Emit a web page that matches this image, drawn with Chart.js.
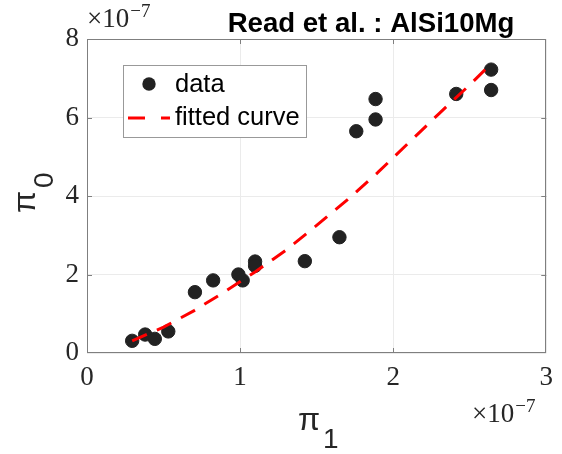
<!DOCTYPE html>
<html>
<head>
<meta charset="utf-8">
<script src="https://cdn.jsdelivr.net/npm/chart.js@4.4.0/dist/chart.umd.min.js"></script>
<style>
  html, body { margin: 0; padding: 0; background: #fff; }
</style>
</head>
<body>
<canvas id="fitChart" width="562" height="454"></canvas>
<script>
// measured points (units of 1e-7)
const dataX = [0.295, 0.38, 0.443, 0.531, 0.705, 0.824, 0.989, 1.017, 1.098, 1.098, 1.423, 1.649, 1.759, 1.885, 1.885, 2.412, 2.64, 2.64]
const dataY = [0.31, 0.47, 0.36, 0.55, 1.55, 1.85, 2.0, 1.85, 2.33, 2.22, 2.34, 2.95, 5.65, 5.95, 6.47, 6.60, 7.22, 6.70]

// fitted curve samples (units of 1e-7)
const fitX = [0.295, 0.5, 0.7, 0.9, 1.1, 1.3, 1.5, 1.7, 1.9, 2.1, 2.3, 2.5, 2.64]
const fitY = [0.31, 0.66, 1.08, 1.56, 2.07, 2.62, 3.25, 3.90, 4.60, 5.35, 6.10, 6.83, 7.37]

const xTicks = [0, 1, 2, 3]
const yTicks = [0, 2, 4, 6, 8]

const titleText = "Read et al. : AlSi10Mg"
const legendLabels = ["data", "fitted curve"]

const FRAME = "#7f7f7f"
const TEXT = "#262626"
const SERIF = "'Liberation Serif', serif"
const SANS = "'Liberation Sans', Arial, sans-serif"

// "×10^-7" multiplier label
function drawExponent(ctx, x, baseline) {
  ctx.save()
  ctx.fillStyle = TEXT
  ctx.textAlign = "left"
  ctx.textBaseline = "alphabetic"
  ctx.font = "27px " + SERIF
  const base = "\u00d710"
  ctx.fillText(base, x, baseline)
  const w = ctx.measureText(base).width
  ctx.font = "19px " + SERIF
  ctx.fillText("\u22127", x + w + 1, baseline - 10)
  ctx.restore()
}

// π with a subscript
function drawPiLabel(ctx, sub) {
  ctx.fillStyle = TEXT
  ctx.textAlign = "left"
  ctx.textBaseline = "alphabetic"
  ctx.font = "32px " + SANS
  ctx.fillText("\u03c0", 0, 0)
  const w = ctx.measureText("\u03c0").width
  ctx.font = "28px " + SANS
  ctx.fillText(sub, w + 3, 18)
}

const decorations = {
  id: "decorations",
  afterDraw(chart) {
    const ctx = chart.ctx
    const a = chart.chartArea
    const xs = chart.scales.x
    const ys = chart.scales.y

    // axes box with inward ticks
    ctx.save()
    ctx.strokeStyle = FRAME
    ctx.lineWidth = 1
    ctx.strokeRect(Math.round(a.left) + 0.5, Math.round(a.top) + 0.5,
      Math.round(a.right - a.left) - 1, Math.round(a.bottom - a.top) - 1)
    ctx.beginPath()
    xTicks.slice(1, -1).forEach(v => {
      const px = Math.round(xs.getPixelForValue(v)) + 0.5
      ctx.moveTo(px, a.bottom); ctx.lineTo(px, a.bottom - 5)
      ctx.moveTo(px, a.top); ctx.lineTo(px, a.top + 5)
    })
    yTicks.slice(1, -1).forEach(v => {
      const py = Math.round(ys.getPixelForValue(v)) + 0.5
      ctx.moveTo(a.left, py); ctx.lineTo(a.left + 5, py)
      ctx.moveTo(a.right, py); ctx.lineTo(a.right - 5, py)
    })
    ctx.stroke()
    ctx.restore()

    // legend
    ctx.save()
    ctx.fillStyle = "#fff"
    ctx.fillRect(123, 65, 183, 72)
    ctx.strokeStyle = "#999"
    ctx.lineWidth = 1
    ctx.strokeRect(123.5, 65.5, 183, 72)
    ctx.fillStyle = "#222"
    ctx.beginPath()
    ctx.arc(149, 84, 6.7, 0, Math.PI * 2)
    ctx.fill()
    ctx.strokeStyle = "#ff0000"
    ctx.lineWidth = 3
    ctx.setLineDash([17, 16])
    ctx.beginPath()
    ctx.moveTo(128, 118)
    ctx.lineTo(170, 118)
    ctx.stroke()
    ctx.setLineDash([])
    ctx.fillStyle = "#000"
    ctx.font = "25.5px " + SANS
    ctx.textBaseline = "middle"
    ctx.textAlign = "left"
    ctx.fillText(legendLabels[0], 175, 85)
    ctx.fillText(legendLabels[1], 175, 118)
    ctx.restore()

    // title
    ctx.save()
    ctx.fillStyle = "#000"
    ctx.font = "bold 27.6px " + SANS
    ctx.textAlign = "center"
    ctx.textBaseline = "alphabetic"
    ctx.fillText(titleText, 371, 32)
    ctx.restore()

    // exponent labels
    drawExponent(ctx, 87, 27)
    drawExponent(ctx, 472, 422)

    // axis labels
    ctx.save()
    ctx.translate(298, 430)
    drawPiLabel(ctx, "1")
    ctx.restore()

    ctx.save()
    ctx.translate(35, 213)
    ctx.rotate(-Math.PI / 2)
    drawPiLabel(ctx, "0")
    ctx.restore()
  }
}

const ctx = document.getElementById("fitChart")
new Chart(ctx, {
  type: "scatter",
  data: {
    datasets: [
      {
        label: legendLabels[1],
        data: fitX.map((x, i) => ({ x: x, y: fitY[i] })),
        showLine: true,
        borderColor: "#ff0000",
        borderWidth: 3,
        borderDash: [16, 11],
        pointRadius: 0,
        fill: false,
        order: 0,
      },
      {
        label: legendLabels[0],
        data: dataX.map((x, i) => ({ x: x, y: dataY[i] })),
        backgroundColor: "#222",
        borderColor: "#222",
        pointRadius: 6.7,
        pointHoverRadius: 6.7,
        order: 1,
      },
    ],
  },
  options: {
    responsive: false,
    animation: false,
    devicePixelRatio: 1,
    layout: {
      padding: { left: 0, top: 39, right: 14, bottom: 0 },
    },
    plugins: {
      legend: { display: false },
      tooltip: { enabled: false },
    },
    scales: {
      x: {
        type: "linear",
        min: 0,
        max: 3,
        afterBuildTicks: scale => { scale.ticks = xTicks.map(v => ({ value: v })) },
        afterFit: scale => { scale.height = 101 },
        grid: { color: "#ebebeb", drawTicks: false },
        border: { display: false },
        ticks: {
          padding: 9,
          color: TEXT,
          font: { family: SERIF, size: 27 },
          callback: v => String(v),
        },
      },
      y: {
        type: "linear",
        min: 0,
        max: 8,
        afterBuildTicks: scale => { scale.ticks = yTicks.map(v => ({ value: v })) },
        afterFit: scale => { scale.width = 87 },
        grid: { color: "#ebebeb", drawTicks: false },
        border: { display: false },
        ticks: {
          padding: 8,
          color: TEXT,
          font: { family: SERIF, size: 27 },
          callback: v => String(v),
        },
      },
    },
  },
  plugins: [decorations],
})
</script>
</body>
</html>
